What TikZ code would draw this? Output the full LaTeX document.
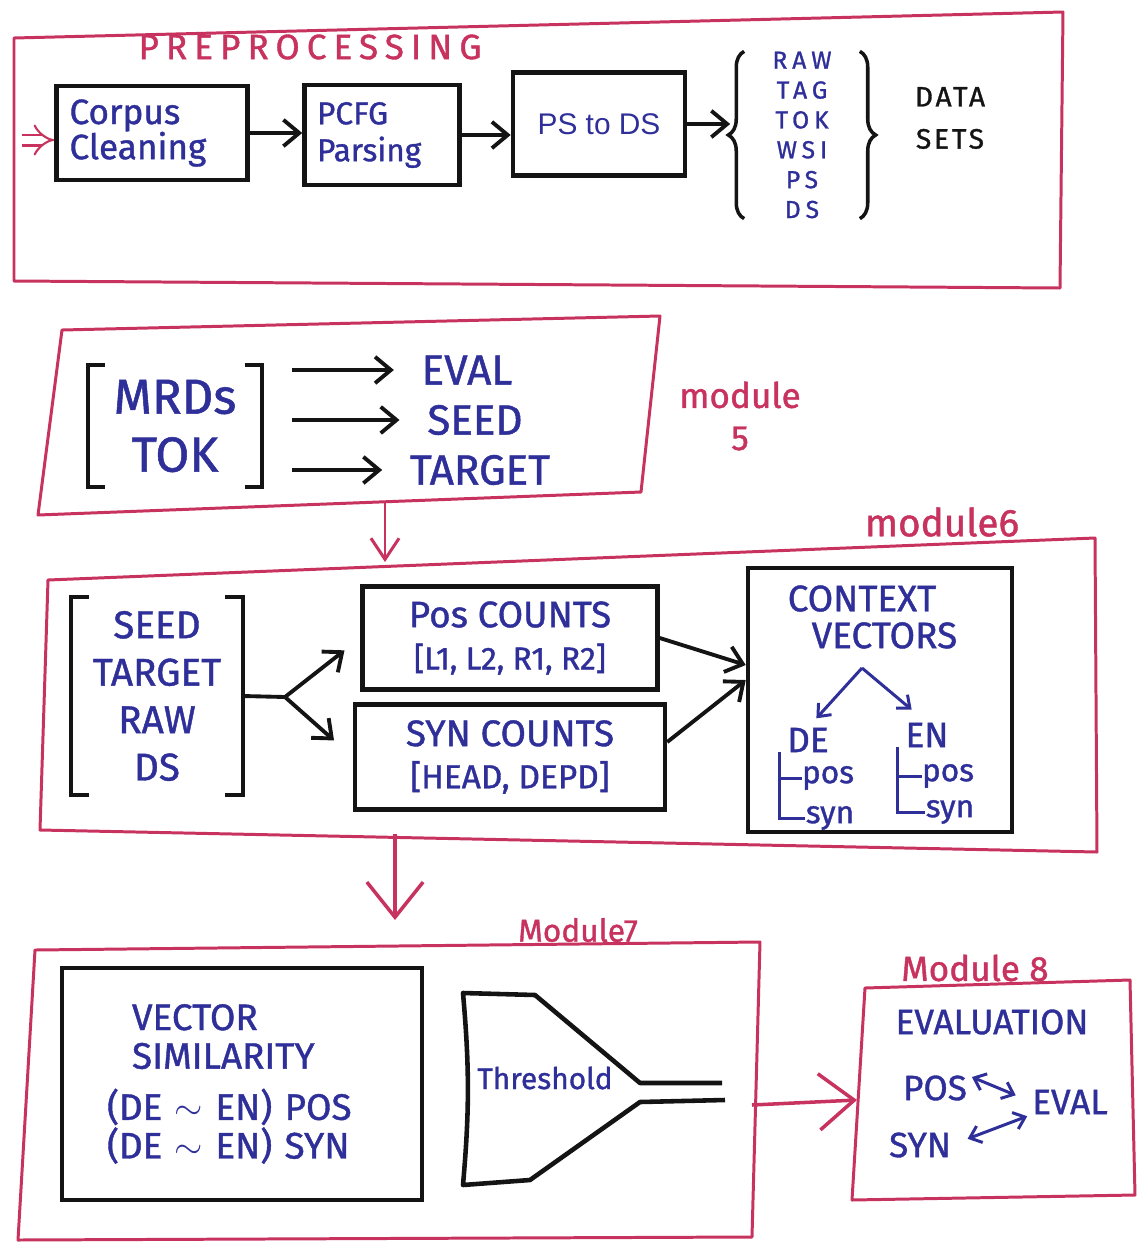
\documentclass[tikz,border=0pt]{standalone}
\usepackage{fontspec}
\setmainfont{Fira Sans}[FakeBold=1.1]
\newfontfamily\typedfont{Liberation Sans}
\usetikzlibrary{arrows.meta,decorations.pathreplacing}
\definecolor{sketchink}{HTML}{141414}
\definecolor{sketchblue}{HTML}{2F2F9A}
\definecolor{sketchred}{HTML}{C7325E}
\newcommand{\penfont}[2]{\fontsize{#1}{#2}\selectfont}

\begin{document}
\begin{tikzpicture}[
  x=0.02cm,
  y=-0.02cm,
  every node/.style={inner sep=0pt, text=sketchblue},
  frame/.style={sketchred, line width=1.7pt, line join=round},
  box/.style={draw=sketchink, line width=2.6pt, rectangle},
  boxline/.style={sketchink, line width=2.6pt, line join=round},
  bracketline/.style={sketchink, line width=2.4pt},
  penline/.style={sketchink, line width=2.2pt},
  penarrow/.style={penline, -{Straight Barb[length=9pt, width=15pt]}},
  blueline/.style={sketchblue, line width=1.7pt},
  bluearrow/.style={blueline, -{Straight Barb[length=6pt, width=10pt]}},
  bluepair/.style={blueline,
    {Straight Barb[length=6pt, width=10pt]}-{Straight Barb[length=6pt, width=10pt]}},
  flow/.style={sketchred, line width=1.7pt, -{Straight Barb[length=12pt, width=16pt]}},
  bigflow/.style={sketchred, line width=2pt, -{Straight Barb[length=20pt, width=32pt]}},
  feed/.style={sketchred, line width=1.2pt, double, double distance=5pt,
               -{Implies[length=6pt]}},
  curly/.style={sketchink, line width=2pt, decorate, decoration={brace, amplitude=9pt}},
  tag/.style={text=sketchred}
]
  \useasboundingbox (0,0) rectangle (1139,1242);

  % ---- preprocessing ------------------------------------------------------
  \draw[frame] (14,38) -- (1063,12) -- (1060,288) -- (14,281) -- cycle;
  \node[tag, font=\penfont{20}{22}\addfontfeatures{LetterSpace=20}] (preptitle)
    at (310,47) {PREPROCESSING};

  \node[box, minimum width=3.82cm, minimum height=1.88cm, text width=3.3cm,
        align=left, font=\penfont{20}{20}] (clean) at (152,133) {Corpus\\Cleaning};
  \node[box, minimum width=3.1cm, minimum height=2cm, text width=2.6cm,
        align=left, font=\penfont{18}{21}] (pcfg) at (382,135) {PCFG\\Parsing};
  \node[box, minimum width=3.44cm, minimum height=2.06cm,
        font=\typedfont\penfont{17}{17}] (ps2ds) at (599,124) {PS to DS};

  % the six data sets between two braces
  \node[minimum width=2.3cm, minimum height=3.3cm, align=center,
        font=\penfont{14}{17}\addfontfeatures{LetterSpace=20}] (sets)
    at (802,135) {RAW\\TAG\\TOK\\WSI\\PS\\DS};
  \draw[curly] (sets.south west) -- (sets.north west);
  \draw[curly] (sets.north east) -- (sets.south east);
  \node[text=sketchink, align=center,
        font=\penfont{16}{24}\addfontfeatures{LetterSpace=10}] (datasets)
    at (950,118) {DATA\\SETS};

  \coordinate (feedtail) at (22,140);
  \draw[feed] (feedtail) -- (clean.west |- feedtail);
  \draw[penarrow] (clean.east) -- (clean.east -| pcfg.west);
  \draw[penarrow] (pcfg.east) -- (pcfg.east -| ps2ds.west);
  \draw[penarrow, shorten >=0.28cm] (ps2ds.east) -- (ps2ds.east -| sets.west);

  % ---- module 5 -----------------------------------------------------------
  \draw[frame] (62,330) -- (660,316) -- (641,492) -- (38,515) -- cycle;
  \node[minimum width=3.48cm, minimum height=2.44cm, align=center,
        font=\penfont{28}{33}] (mrd) at (175,426) {MRDs\\TOK};
  \draw[bracketline] ([xshift=0.35cm]mrd.north west) -- (mrd.north west)
    -- (mrd.south west) -- ([xshift=0.35cm]mrd.south west);
  \draw[bracketline] ([xshift=-0.35cm]mrd.north east) -- (mrd.north east)
    -- (mrd.south east) -- ([xshift=-0.35cm]mrd.south east);

  \node[font=\penfont{24}{24}] (eval) at (467,370) {EVAL};
  \node[font=\penfont{24}{24}] (seed) at (475,420) {SEED};
  \node[font=\penfont{24}{24}] (target) at (480,470) {TARGET};
  \foreach \goal in {eval, seed, target}
    \draw[penarrow, shorten >=0.55cm] ([xshift=0.6cm]mrd.east |- \goal.west)
      -- (\goal.west);

  \node[tag, align=center, font=\penfont{20}{24}] (mod5) at (740,416) {module\\5};

  % ---- module 6 -----------------------------------------------------------
  \node[tag, font=\penfont{22}{22}] (mod6) at (942,522) {module6};
  \draw[frame] (48,580) -- (1095,538) -- (1097,852) -- (40,830) -- cycle;
  \coordinate (m5foot) at (385,502);
  \coordinate (m6head) at (385,562);
  \draw[flow] (m5foot) -- (m6head);

  \node[minimum width=3.42cm, minimum height=3.96cm, align=center,
        font=\penfont{22}{27}] (seedgrp) at (157,696) {SEED\\TARGET\\RAW\\DS};
  \draw[bracketline] ([xshift=0.35cm]seedgrp.north west) -- (seedgrp.north west)
    -- (seedgrp.south west) -- ([xshift=0.35cm]seedgrp.south west);
  \draw[bracketline] ([xshift=-0.35cm]seedgrp.north east) -- (seedgrp.north east)
    -- (seedgrp.south east) -- ([xshift=-0.35cm]seedgrp.south east);

  \node[box, minimum width=5.9cm, minimum height=2.06cm, align=center,
        font=\penfont{21}{24}] (poscnt) at (510,638)
    {Pos COUNTS\\{\penfont{18}{18}[L1, L2, R1, R2]}};
  \node[box, minimum width=6.2cm, minimum height=2.1cm, align=center,
        font=\penfont{21}{24}] (syncnt) at (510,757)
    {SYN COUNTS\\{\penfont{19}{19}[HEAD, DEPD]}};

  \coordinate (fork) at (285,697);
  \draw[penline] (seedgrp.east) -- (fork);
  \draw[penarrow, shorten >=0.4cm] (fork) -- (poscnt.west);
  \draw[penarrow, shorten >=0.5cm] (fork) -- (syncnt.west);

  % context vectors and their two language trees
  \node[box, minimum width=5.28cm, minimum height=5.28cm] (ctx) at (880,700) {};
  \node[align=center, font=\penfont{21}{21}] (ctxtitle) at (862,617)
    {CONTEXT\\\hspace{0.9cm}VECTORS};
  \coordinate (split) at (862,668);
  \node[font=\penfont{20}{20}] (de) at (808,740) {DE};
  \node[font=\penfont{20}{20}] (en) at (927,735) {EN};
  \draw[bluearrow, shorten >=0.25cm] (split) -- (de.north);
  \draw[bluearrow, shorten >=0.4cm] (split) -- (en.north);
  \node[font=\penfont{18}{18}] (depos) at (828,778) {pos};
  \node[font=\penfont{18}{18}] (desyn) at (830,818) {syn};
  \node[font=\penfont{18}{18}] (enpos) at (948,776) {pos};
  \node[font=\penfont{18}{18}] (ensyn) at (950,812) {syn};
  \coordinate (detrunk) at ([xshift=-0.15cm]de.south west);
  \coordinate (entrunk) at ([xshift=-0.15cm]en.south west);
  \draw[blueline] (detrunk) |- (desyn.west);
  \draw[blueline] (detrunk |- depos.west) -- (depos.west);
  \draw[blueline] (entrunk) |- (ensyn.west);
  \draw[blueline] (entrunk |- enpos.west) -- (enpos.west);

  \draw[penarrow] (poscnt.east) -- ([yshift=0.7cm]ctx.west);
  \draw[penarrow] ([yshift=0.3cm]syncnt.east) -- ([yshift=0.4cm]ctx.west);

  % ---- module 7 -----------------------------------------------------------
  \node[tag, font=\penfont{18}{18}] (mod7) at (578,930) {Module7};
  \draw[frame] (35,950) -- (760,942) -- (752,1237) -- (18,1240) -- cycle;
  \coordinate (m6foot) at (395,834);
  \coordinate (m7head) at (395,920);
  \draw[bigflow] (m6foot) -- (m7head);

  \node[box, minimum width=7.2cm, minimum height=4.64cm, text width=5.4cm,
        align=left, font=\penfont{21}{22}] (vsim) at (242,1084)
    {\hspace{0.5cm}VECTOR\\\hspace{0.5cm}SIMILARITY\\[0.25cm]%
     (DE $\sim$ EN) POS\\(DE $\sim$ EN) SYN};

  % funnel of the threshold
  \node[font=\penfont{17}{17}] (thr) at (545,1078) {Threshold};
  \draw[boxline] (722,1083) -- (640,1083) -- (535,995) -- (463,993)
    to[bend left=5] (463,1185) -- (530,1180) -- (640,1102) -- (725,1100);

  % ---- module 8 -----------------------------------------------------------
  \node[tag, font=\penfont{20}{20}] (mod8) at (975,968) {Module 8};
  \draw[frame] (865,988) -- (1130,980) -- (1135,1195) -- (852,1200) -- cycle;
  \coordinate (m7side) at (752,1105);
  \coordinate (m8side) at (857,1100);
  \draw[bigflow] (m7side) -- (m8side);

  \node[font=\penfont{20}{20}] (evaluation) at (992,1022) {EVALUATION};
  \node[font=\penfont{20}{20}] (pos8) at (935,1088) {POS};
  \node[font=\penfont{20}{20}] (eval8) at (1070,1102) {EVAL};
  \node[font=\penfont{20}{20}] (syn8) at (920,1145) {SYN};
  \draw[bluepair, shorten <=0.1cm, shorten >=0.35cm] (pos8.north east) -- (eval8.west);
  \draw[bluepair, shorten <=0.35cm, shorten >=0.1cm] (syn8.east) -- (eval8.south west);
\end{tikzpicture}
\end{document}
